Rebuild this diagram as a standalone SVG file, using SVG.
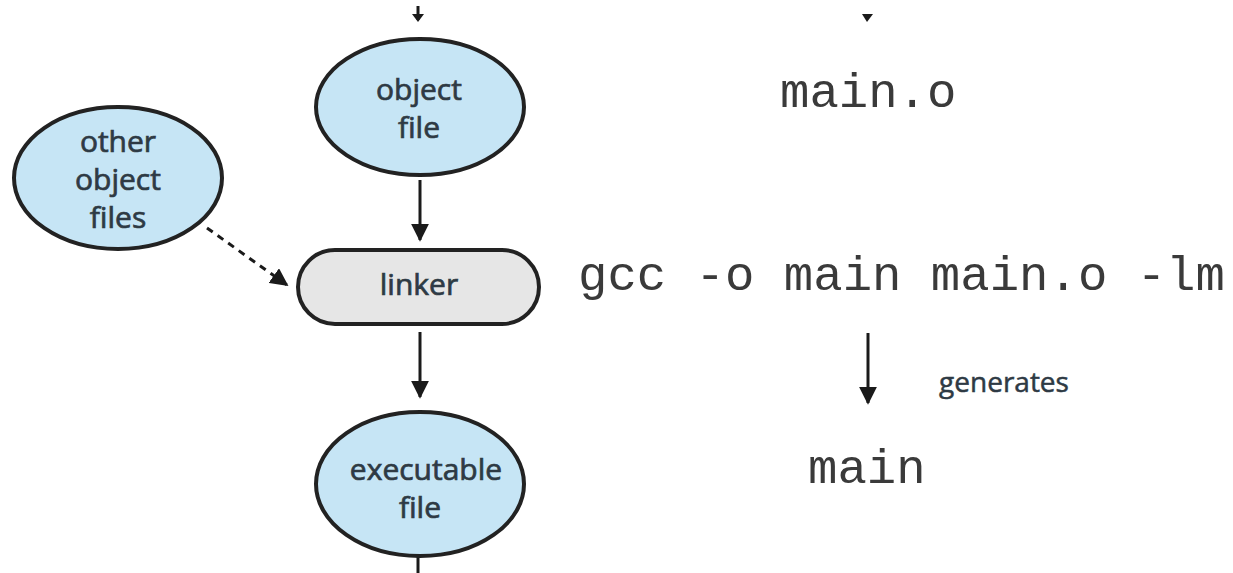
<svg xmlns="http://www.w3.org/2000/svg" width="1233" height="573" viewBox="0 0 1233 573">
<defs>
<marker id="ahb" viewBox="0 0 10 10" refX="9" refY="5" markerWidth="6" markerHeight="6" orient="auto">
<path d="M0,0 L10,5 L0,10 z" fill="#1a1a1a"/>
</marker>
</defs>
<style>
.blue{fill:#c6e5f5;stroke:#222;stroke-width:4}
.gray{fill:#e6e6e6;stroke:#222;stroke-width:4}
.lbl{font-family:"Open Sans","Noto Sans",sans-serif;font-size:30px;font-weight:400;fill:#2e3a44;stroke:#2e3a44;stroke-width:0.7px;text-anchor:middle}
.code{font-family:"Liberation Mono","Courier New",monospace;font-size:49px;fill:#3a3a3a}
.conn{stroke:#1a1a1a;stroke-width:3;fill:none}
</style>
<rect width="1233" height="573" fill="#fff"/>
<g id="connectors">
<line class="conn" x1="418" y1="6" x2="418" y2="20"/>
<path d="M412,14 L424,14 L418,22 z" fill="#1a1a1a"/>
<line class="conn" x1="420" y1="180" x2="420" y2="240" marker-end="url(#ahb)"/>
<line class="conn" x1="420" y1="332" x2="420" y2="397" marker-end="url(#ahb)"/>
<line class="conn" x1="418" y1="557" x2="418" y2="573"/>
<line class="conn" x1="207" y1="228" x2="287" y2="285" stroke-dasharray="7,6" stroke-width="3.5" marker-end="url(#ahb)"/>
<path d="M862,14 L873,14 L867,22 z" fill="#1a1a1a"/>
<line class="conn" x1="868" y1="333" x2="868" y2="403" marker-end="url(#ahb)"/>
</g>
<g id="object-file">
<ellipse class="blue" cx="420" cy="107" rx="104" ry="68"/>
<text class="lbl" x="419" y="100">object</text>
<text class="lbl" x="419" y="138">file</text>
</g>
<g id="other-object-files">
<ellipse class="blue" cx="118" cy="178" rx="104" ry="71"/>
<text class="lbl" x="118" y="152">other</text>
<text class="lbl" x="118" y="190">object</text>
<text class="lbl" x="118" y="228">files</text>
</g>
<g id="linker">
<rect class="gray" x="298" y="250" width="241" height="74" rx="37" ry="37"/>
<text class="lbl" x="419" y="295">linker</text>
</g>
<g id="executable-file">
<ellipse class="blue" cx="420" cy="484" rx="104" ry="72"/>
<text class="lbl" x="426" y="480">executable</text>
<text class="lbl" x="420" y="518">file</text>
</g>
<g id="commands">
<text class="code" x="780" y="107">main.o</text>
<text class="code" x="578" y="290">gcc -o main main.o -lm</text>
<text class="code" x="808" y="483">main</text>
<text class="lbl" x="1004" y="392" style="font-size:28px;stroke-width:0.5px">generates</text>
</g>
</svg>
